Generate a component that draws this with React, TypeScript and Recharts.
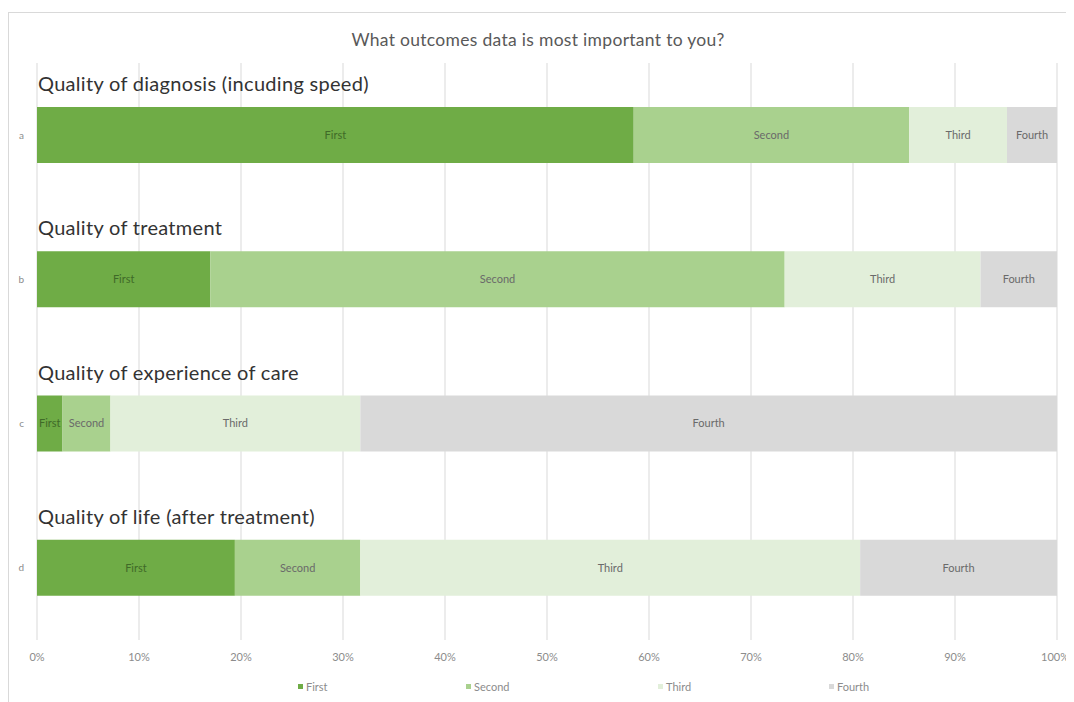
import React from "react"
import { Bar, BarChart, CartesianGrid, LabelList, Legend, XAxis, YAxis } from "recharts"

const categories = ["a", "b", "c", "d"]
const titles = [
  "Quality of diagnosis (incuding speed)",
  "Quality of treatment",
  "Quality of experience of care",
  "Quality of life (after treatment)",
]
const first = [58.5, 17, 2.5, 19.4]
const second = [27, 56.3, 4.7, 12.3]
const third = [9.6, 19.2, 24.5, 49]
const fourth = [4.9, 7.5, 68.3, 19.3]
const percentTicks = [0, 10, 20, 30, 40, 50, 60, 70, 80, 90, 100]

const seriesNames = ["First", "Second", "Third", "Fourth"]
const seriesColors = ["#6fac46", "#a9d18e", "#e2efda", "#d9d9d9"]
const seriesKeys = ["first", "second", "third", "fourth"]

const data = categories.map((cat, i) => ({
  cat,
  title: titles[i],
  first: first[i],
  second: second[i],
  third: third[i],
  fourth: fourth[i],
}))

const FONT = "Lato, 'Open Sans', sans-serif"

function TitleLabel(props: any) {
  const { x, y, value } = props
  return (
    <text x={x + 1} y={y - 16} fontSize={20} letterSpacing={0.3} fill="#333333" fontFamily={FONT}>
      {value}
    </text>
  )
}

const legendSlots = [168, 192, 171, 60]

function LegendRow() {
  return (
    <div style={{ display: "flex", paddingLeft: 289, fontFamily: FONT, fontSize: 11, color: "#8c8c8c" }}>
      {seriesNames.map((name, i) => (
        <div key={name} style={{ width: legendSlots[i], display: "flex", alignItems: "center" }}>
          <span
            style={{ display: "inline-block", width: 5, height: 5, background: seriesColors[i], marginRight: 3 }}
          />
          {name}
        </div>
      ))}
    </div>
  )
}

export default function App() {
  return (
    <div
      style={{
        marginTop: 4,
        width: 1060,
        height: 690,
        border: "1px solid #d9d9d9",
        position: "relative",
        fontFamily: FONT,
        background: "#fff",
      }}
    >
      <div
        style={{
          position: "absolute",
          top: 16,
          left: 0,
          width: 1058,
          textAlign: "center",
          fontSize: 17.5,
          letterSpacing: 0.3,
          color: "#595959",
        }}
      >
        What outcomes data is most important to you?
      </div>
      <BarChart
        width={1060}
        height={690}
        data={data}
        layout="vertical"
        margin={{ top: 50, right: 12, left: 0, bottom: 33 }}
        barSize={56}
      >
        <CartesianGrid horizontal={false} stroke="#d9d9d9" />
        <XAxis
          type="number"
          domain={[0, 100]}
          ticks={percentTicks}
          tickFormatter={(v) => `${v}%`}
          axisLine={false}
          tickLine={false}
          tickSize={6}
          tickMargin={7}
          height={30}
          tick={{ fontSize: 11, fill: "#8c8c8c", fontFamily: FONT }}
        />
        <YAxis
          type="category"
          dataKey="cat"
          width={28}
          axisLine={false}
          tickLine={false}
          tickSize={0}
          tickMargin={13}
          tick={{ fontSize: 10, fill: "#8c8c8c", fontFamily: FONT }}
        />
        <Legend
          layout="horizontal"
          verticalAlign="middle"
          align="center"
          wrapperStyle={{ top: 667, left: 0, width: 1060 }}
          content={() => <LegendRow />}
        />
        {seriesKeys.map((key, i) => (
          <Bar
            key={key}
            dataKey={key}
            name={seriesNames[i]}
            stackId="s"
            fill={seriesColors[i]}
            isAnimationActive={false}
          >
            <LabelList
              dataKey={key}
              position="center"
              formatter={() => seriesNames[i]}
              style={{ fontSize: 11, fill: i === 0 ? "#3f6a28" : "#6a6a6a", fontFamily: FONT }}
            />
            {i === 0 && <LabelList dataKey="title" content={TitleLabel} />}
          </Bar>
        ))}
      </BarChart>
    </div>
  )
}
